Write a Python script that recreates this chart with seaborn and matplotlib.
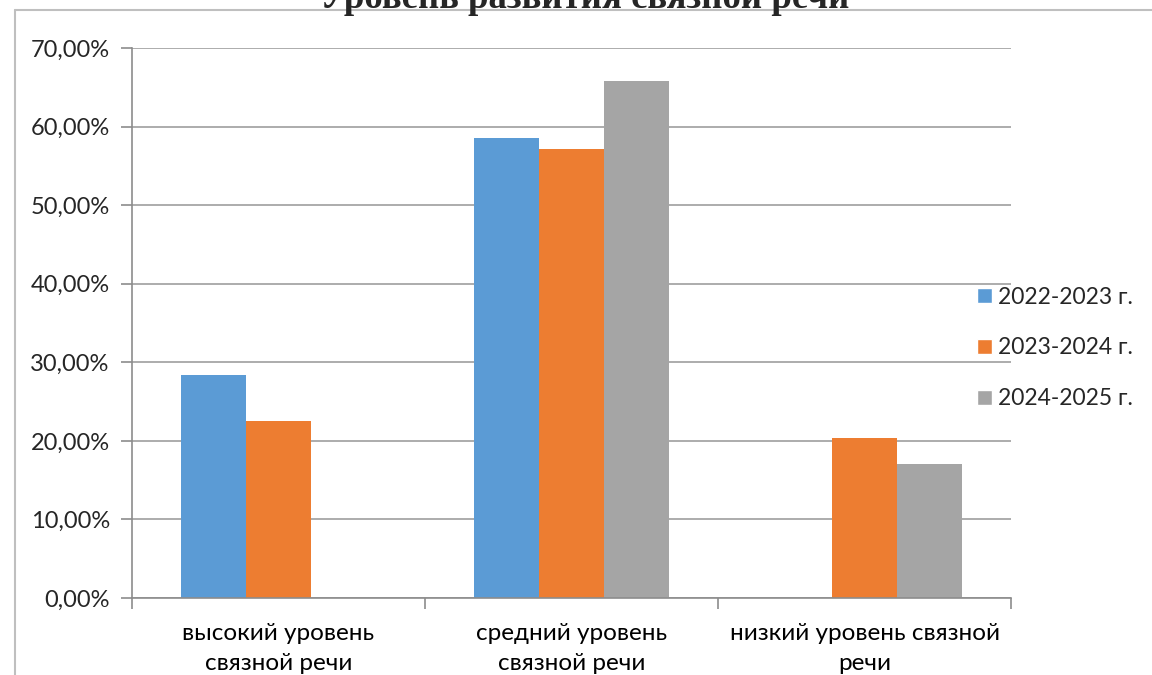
import matplotlib
matplotlib.use("Agg")
import matplotlib.pyplot as plt
from matplotlib.ticker import FuncFormatter, FixedLocator
from matplotlib.patches import Patch
import seaborn as sns
import pandas as pd

# данные с диаграммы (в процентах)
categories = ["высокий уровень\nсвязной речи", "средний уровень\nсвязной речи", "низкий уровень связной\nречи"]
years = ["2022-2023 г.", "2023-2024 г.", "2024-2025 г."]
v_2022 = [28.4, 58.5, 0.0]
v_2023 = [22.5, 57.1, 20.4]
v_2024 = [0.0, 65.8, 17.1]
colors = ["#5B9BD5", "#ED7D31", "#A5A5A5"]

rows = []
for year, vals in zip(years, [v_2022, v_2023, v_2024]):
    for cat, v in zip(categories, vals):
        rows.append({"cat": cat, "year": year, "val": v})
df = pd.DataFrame(rows)

sns.set_style("white")
plt.rcParams["font.family"] = ["Lato", "DejaVu Sans"]

fig = plt.figure(figsize=(11.52, 6.75), dpi=100)
ax = fig.add_axes([132 / 1152, 1 - 598 / 675, (1011 - 132) / 1152, (598 - 48) / 675])

sns.barplot(data=df, x="cat", y="val", hue="year", palette=colors, width=0.666,
            linewidth=0, saturation=1, ax=ax, legend=False, errorbar=None)

ax.set_xlim(-0.5, 2.5)
ax.set_ylim(0, 70)
ax.set_yticks(range(0, 71, 10))
ax.yaxis.set_major_formatter(FuncFormatter(lambda v, p: f"{v:.2f}%".replace(".", ",")))
ax.grid(axis="y", color="#A6A6A6", linewidth=1.3)
ax.set_axisbelow(True)
ax.set_xlabel("")
ax.set_ylabel("")

for s in ["top", "right"]:
    ax.spines[s].set_visible(False)
for s in ["left", "bottom"]:
    ax.spines[s].set_color("#8C8C8C")
    ax.spines[s].set_linewidth(1.2)

ax.xaxis.set_minor_locator(FixedLocator([-0.5, 0.5, 1.5, 2.5]))
ax.tick_params(axis="x", which="major", length=0, pad=18, labelsize=17.5, colors="black")
ax.tick_params(axis="x", which="minor", length=8, color="#8C8C8C", width=1.2, bottom=True)
ax.tick_params(axis="y", length=8, color="#8C8C8C", width=1.2, pad=8, labelsize=17, left=True)
for lbl in ax.get_xticklabels():
    lbl.set_linespacing(1.5)

handles = [Patch(facecolor=c, label=y) for c, y in zip(colors, years)]
fig.legend(handles=handles, loc="center left", bbox_to_anchor=(956 / 1152, 1 - 348 / 675),
           frameon=False, fontsize=16.5, handlelength=0.65, handleheight=0.65,
           handletextpad=0.3, labelspacing=1.3)

fig.text(585 / 1152, 1 - 8 / 675, "Уровень развития связной речи", ha="center", va="baseline",
         family="Liberation Serif", fontweight="bold", fontsize=26.5)

# рамка области диаграммы
fig.add_artist(plt.Line2D([15 / 1152, 1], [1 - 10 / 675, 1 - 10 / 675], color="#BFBFBF", linewidth=1.5))
fig.add_artist(plt.Line2D([15 / 1152, 15 / 1152], [0, 1 - 10 / 675], color="#BFBFBF", linewidth=1.5))

fig.savefig("out.png", dpi=100)
